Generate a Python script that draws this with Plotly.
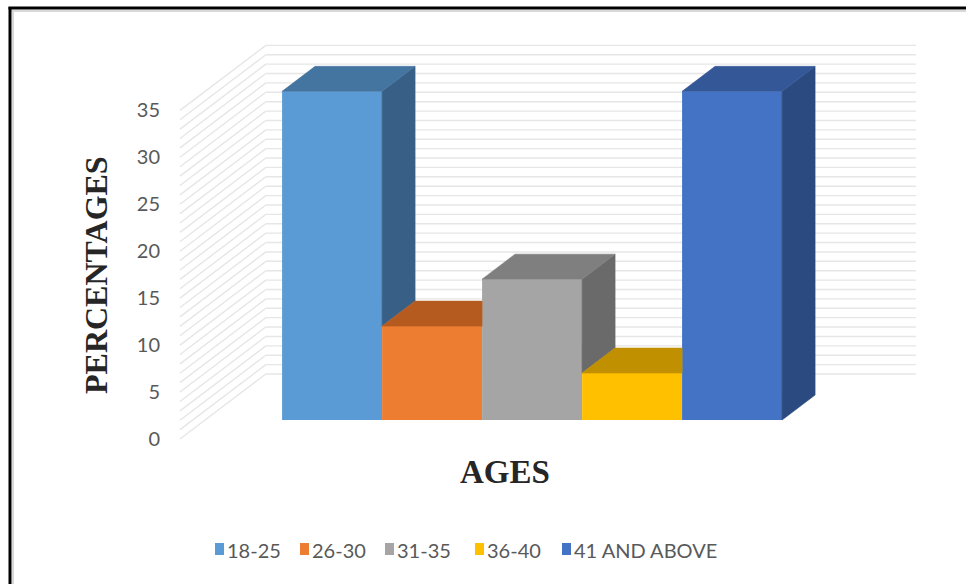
import plotly.graph_objects as go

# ---- data -------------------------------------------------------------
categories = ["18-25", "26-30", "31-35", "36-40", "41 AND ABOVE"]
percentages = [35, 10, 15, 5, 35]
front_colors = ["#5B9BD5", "#ED7D31", "#A5A5A5", "#FFC000", "#4472C4"]
top_colors = ["#4474A0", "#B65B20", "#7F7F7F", "#C19000", "#345897"]
side_colors = ["#386087", "#9A4C1A", "#6A6A6A", "#A17800", "#2B4A80"]
y_ticks = [0, 5, 10, 15, 20, 25, 30, 35]
y_max = 35

# ---- page / projection -----------------------------------------------
W, H = 966, 584
X_RANGE = [-1.8, 7.86]          # 100 px per category unit
Y_RANGE = [-15.442, 46.752]     # ~9.39 px per percentage point

KX = 0.33                       # screen x shift per unit of depth
KY = 25 / 9.39                  # screen y shift per unit of depth
D_FRONT, D_BACK = 0.76, 1.76    # depth of the bar slab
D_WALL = 2.6                    # depth of the back wall
WALL_W = 6.5                    # wall width in category units
FIRST_CENTER = 1.27


def proj(x, y, d):
    return x + d * KX, y + d * KY


def clip_left_of(poly, xb):
    """Keep the part of a polygon with x <= xb."""
    out = []
    n = len(poly)
    for k in range(n):
        p, q = poly[k], poly[(k + 1) % n]
        pin, qin = p[0] <= xb + 1e-9, q[0] <= xb + 1e-9
        if pin:
            out.append(p)
        if pin != qin:
            t = (xb - p[0]) / (q[0] - p[0])
            out.append((xb, p[1] + t * (q[1] - p[1])))
    return out


def face_trace(poly, color, name):
    xs = [p[0] for p in poly] + [poly[0][0]]
    ys = [p[1] for p in poly] + [poly[0][1]]
    return go.Scatter(x=xs, y=ys, mode="lines", fill="toself",
                      fillcolor=color, line=dict(color=color, width=0.6),
                      hoverinfo="skip", showlegend=False, name=name)


fig = go.Figure()

# ---- walls (behind the bars) -----------------------------------------
grid_color = "#E6E6E6"
shapes = []
for v in range(0, y_max + 1):
    x0, y0 = proj(0, v, D_WALL)
    x1, y1 = proj(WALL_W, v, D_WALL)
    shapes.append(dict(type="line", xref="x", yref="y", x0=x0, y0=y0,
                       x1=x1, y1=y1, layer="below",
                       line=dict(color=grid_color, width=1.4)))
    sx0, sy0 = proj(0, v, 0)
    shapes.append(dict(type="line", xref="x", yref="y", x0=sx0, y0=sy0,
                       x1=x0, y1=y0, layer="below",
                       line=dict(color=grid_color, width=1.4)))

# ---- bars: front faces ------------------------------------------------
centers = [FIRST_CENTER + i for i in range(len(categories))]
fx, base = proj(0, 0, D_FRONT)
for i, (cat, val) in enumerate(zip(categories, percentages)):
    fig.add_trace(go.Bar(
        x=[centers[i] + fx], y=[val], base=[base], width=[1.0],
        marker=dict(color=front_colors[i], line=dict(width=0)),
        name=cat, showlegend=False,
        hovertemplate=cat + ": %{y}%<extra></extra>",
    ))

# ---- bars: top and right-hand faces -----------------------------------
n = len(categories)
for i, val in enumerate(percentages):
    xl, xr = centers[i] - 0.5, centers[i] + 0.5
    nxt = percentages[i + 1] if i + 1 < n else None

    # right side, only where the neighbour does not hide it
    if nxt is None or nxt < val:
        ylo = 0 if nxt is None else nxt
        side = [proj(xr, ylo, D_FRONT), proj(xr, val, D_FRONT),
                proj(xr, val, D_BACK), proj(xr, ylo, D_BACK)]
        fig.add_trace(face_trace(side, side_colors[i], categories[i]))

    # top, cut by a taller neighbour's front face
    top = [proj(xl, val, D_FRONT), proj(xr, val, D_FRONT),
           proj(xr, val, D_BACK), proj(xl, val, D_BACK)]
    if nxt is not None and nxt > val:
        top = clip_left_of(top, xr + fx)
    fig.add_trace(face_trace(top, top_colors[i], categories[i]))


def px(x):
    return x / W


def py(y):
    return 1 - y / H


# ---- legend (square swatch + label) ----------------------------------
legend_left = [215, 300, 385, 475, 562]
annotations = []
for i, cat in enumerate(categories):
    l = legend_left[i]
    shapes.append(dict(type="rect", xref="paper", yref="paper",
                       x0=px(l), x1=px(l + 9), y0=py(543), y1=py(555),
                       fillcolor=front_colors[i], line=dict(width=0)))
    annotations.append(dict(text=cat, xref="paper", yref="paper",
                            x=px(l + 10), y=py(549.5), xanchor="left",
                            yanchor="middle", showarrow=False,
                            font=dict(family="Lato", size=20, color="#595959")))

# ---- titles -----------------------------------------------------------
annotations.append(dict(text="<b>AGES</b>", xref="paper", yref="paper",
                        x=px(505), y=py(472), xanchor="center", yanchor="middle",
                        showarrow=False,
                        font=dict(family="Liberation Serif", size=33, color="#262626")))
annotations.append(dict(text="<b>PERCENTAGES</b>", xref="paper", yref="paper",
                        x=px(96), y=py(275), xanchor="center", yanchor="middle",
                        textangle=-90, showarrow=False,
                        font=dict(family="Liberation Serif", size=32, color="#262626")))

# ---- outer frame ------------------------------------------------------
shapes += [
    dict(type="line", xref="paper", yref="paper", x0=px(13), x1=px(13),
         y0=py(11), y1=py(H + 5), line=dict(color="#D8D8D8", width=2)),
    dict(type="line", xref="paper", yref="paper", x0=px(11), x1=px(W + 5),
         y0=py(11), y1=py(11), line=dict(color="#D8D8D8", width=2)),
    dict(type="line", xref="paper", yref="paper", x0=px(10), x1=px(10),
         y0=py(7), y1=py(H + 5), line=dict(color="#000000", width=3)),
    dict(type="line", xref="paper", yref="paper", x0=px(8.5), x1=px(W + 5),
         y0=py(8), y1=py(8), line=dict(color="#000000", width=3)),
]

fig.update_layout(
    width=W, height=H,
    margin=dict(l=0, r=0, t=0, b=0),
    paper_bgcolor="white", plot_bgcolor="white",
    barmode="overlay",
    showlegend=False,
    xaxis=dict(range=X_RANGE, domain=[0, 1], visible=False, fixedrange=True),
    yaxis=dict(range=Y_RANGE, domain=[0, 1], anchor="free", position=px(160),
               tickmode="array", tickvals=y_ticks,
               ticktext=[str(t) for t in y_ticks],
               showgrid=False, zeroline=False, showline=False, ticks="",
               tickfont=dict(family="Lato", size=20, color="#595959"),
               fixedrange=True),
    shapes=shapes,
    annotations=annotations,
)

fig.write_html("out.html")
